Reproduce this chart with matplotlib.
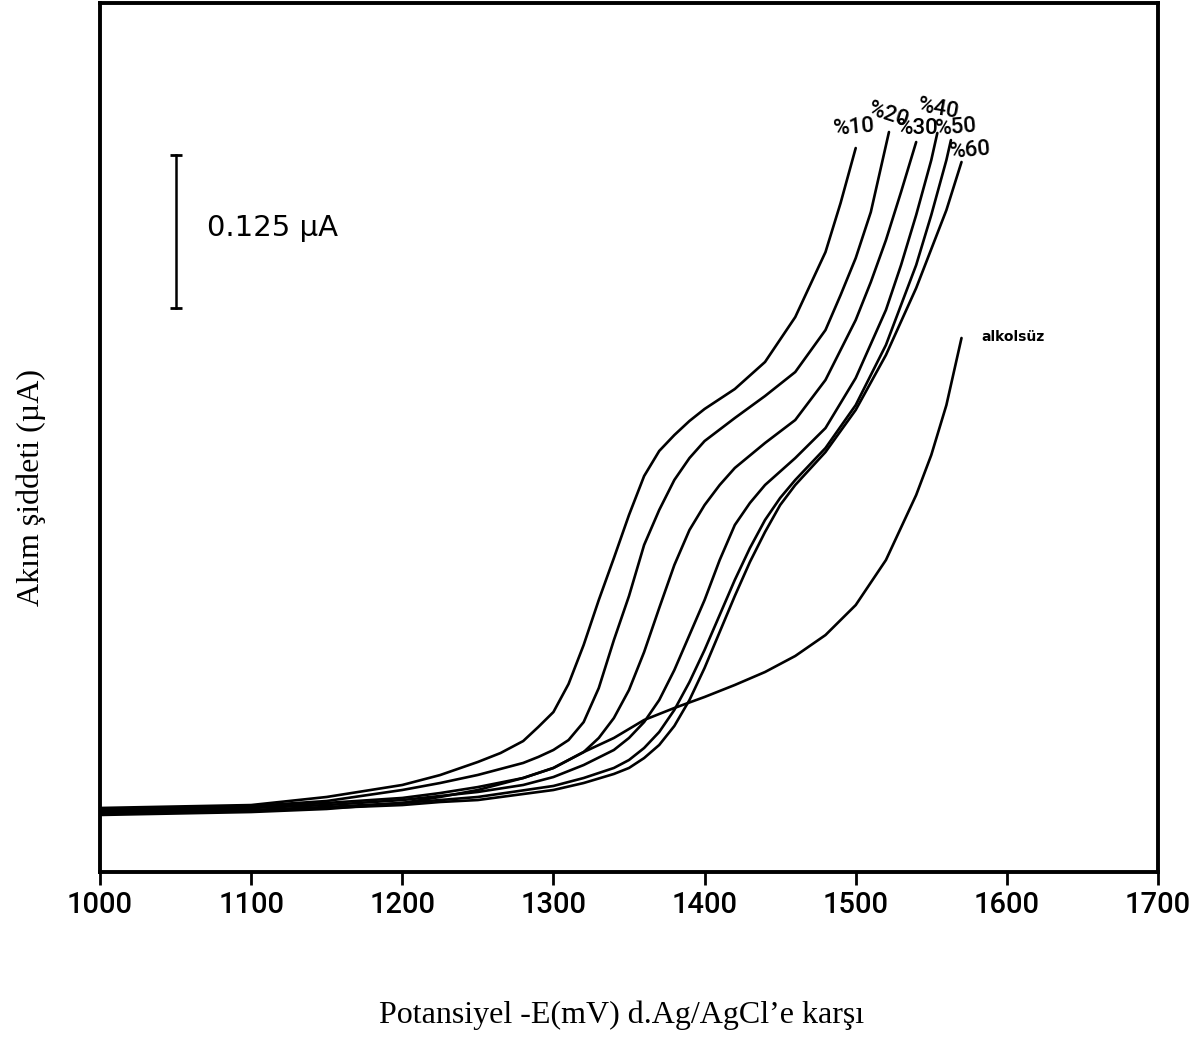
import matplotlib
matplotlib.use("Agg")
import matplotlib.pyplot as plt

# potential (mV) and current (uA)
e_10 = [1000, 1100, 1150, 1200, 1225, 1250, 1265, 1280, 1290, 1300, 1310, 1320, 1330,
        1340, 1350, 1360, 1370, 1380, 1390, 1400, 1420, 1440, 1460, 1480, 1490, 1500]
i_10 = [0.0523, 0.0547, 0.0613, 0.0711, 0.0792, 0.0899, 0.0972, 0.1070, 0.1185, 0.1307,
        0.1536, 0.1855, 0.2222, 0.2565, 0.2917, 0.3235, 0.3440, 0.3570, 0.3685, 0.3783,
        0.3946, 0.4167, 0.4534, 0.5065, 0.5466, 0.5915]

e_20 = [1000, 1100, 1150, 1200, 1225, 1250, 1280, 1290, 1300, 1310, 1320, 1330, 1340,
        1350, 1360, 1370, 1380, 1390, 1400, 1420, 1440, 1460, 1480, 1490, 1500, 1510,
        1522]
i_20 = [0.0515, 0.0539, 0.0580, 0.0670, 0.0727, 0.0793, 0.0891, 0.0940, 0.0997, 0.1078,
        0.1225, 0.1503, 0.1895, 0.2255, 0.2672, 0.2958, 0.3203, 0.3382, 0.3521, 0.3709,
        0.3889, 0.4085, 0.4428, 0.4714, 0.5016, 0.5392, 0.6046]

e_30 = [1000, 1100, 1150, 1200, 1225, 1250, 1280, 1300, 1320, 1330, 1340, 1350, 1360,
        1370, 1380, 1390, 1400, 1410, 1420, 1440, 1460, 1480, 1500, 1510, 1520, 1530,
        1540]
i_30 = [0.0507, 0.0531, 0.0564, 0.0605, 0.0645, 0.0694, 0.0768, 0.0850, 0.0980, 0.1095,
        0.1258, 0.1487, 0.1797, 0.2157, 0.2508, 0.2794, 0.2998, 0.3162, 0.3301, 0.3505,
        0.3693, 0.4020, 0.4510, 0.4820, 0.5163, 0.5556, 0.5964]

e_40 = [1000, 1100, 1150, 1200, 1225, 1250, 1280, 1300, 1320, 1340, 1350, 1360, 1370,
        1380, 1390, 1400, 1410, 1420, 1430, 1440, 1460, 1480, 1500, 1520, 1530, 1540,
        1550, 1554]
i_40 = [0.0498, 0.0523, 0.0547, 0.0588, 0.0621, 0.0654, 0.0711, 0.0776, 0.0874, 0.0997,
        0.1095, 0.1225, 0.1405, 0.1650, 0.1936, 0.2222, 0.2549, 0.2835, 0.3015, 0.3162,
        0.3382, 0.3627, 0.4036, 0.4592, 0.4959, 0.5368, 0.5817, 0.6038]

e_50 = [1000, 1100, 1150, 1200, 1225, 1250, 1300, 1320, 1340, 1350, 1360, 1370, 1380,
        1390, 1400, 1410, 1420, 1430, 1440, 1450, 1460, 1480, 1500, 1520, 1540, 1550,
        1560, 1563]
i_50 = [0.0490, 0.0507, 0.0531, 0.0564, 0.0588, 0.0613, 0.0703, 0.0768, 0.0850, 0.0915,
        0.1013, 0.1144, 0.1324, 0.1552, 0.1814, 0.2100, 0.2386, 0.2647, 0.2876, 0.3056,
        0.3203, 0.3464, 0.3815, 0.4306, 0.4959, 0.5368, 0.5817, 0.5980]

e_60 = [1000, 1100, 1150, 1200, 1225, 1250, 1300, 1320, 1340, 1350, 1360, 1370, 1380,
        1390, 1400, 1410, 1420, 1430, 1440, 1450, 1460, 1480, 1500, 1520, 1540, 1560,
        1570]
i_60 = [0.0482, 0.0498, 0.0523, 0.0547, 0.0572, 0.0588, 0.0670, 0.0727, 0.0801, 0.0850,
        0.0931, 0.1038, 0.1193, 0.1405, 0.1667, 0.1961, 0.2255, 0.2533, 0.2778, 0.2998,
        0.3162, 0.3431, 0.3775, 0.4224, 0.4771, 0.5408, 0.5801]

e_alk = [1000, 1100, 1150, 1200, 1225, 1250, 1280, 1300, 1320, 1340, 1360, 1380, 1400,
         1420, 1440, 1460, 1480, 1500, 1520, 1540, 1550, 1560, 1570]
i_alk = [0.0466, 0.0490, 0.0515, 0.0564, 0.0613, 0.0670, 0.0768, 0.0850, 0.0980, 0.1095,
         0.1242, 0.1340, 0.1430, 0.1528, 0.1634, 0.1765, 0.1936, 0.2181, 0.2549, 0.3080,
         0.3407, 0.3815, 0.4363]

curves = [(e_10, i_10, '%10'), (e_20, i_20, '%20'), (e_30, i_30, '%30'),
          (e_40, i_40, '%40'), (e_50, i_50, '%50'), (e_60, i_60, '%60'),
          (e_alk, i_alk, 'alkolsüz')]

# label offsets (points) from each curve's last point, and rotation
label_style = {'%10': (-1, 15, 5), '%20': (0, 12, -18), '%30': (1, 10, 0),
               '%40': (1, 17, -10), '%50': (4, 9, 5), '%60': (6, 8, 5),
               'alkolsüz': (37, 1, 0)}

scale_value = 0.125
xticks = [1000, 1100, 1200, 1300, 1400, 1500, 1600, 1700]

sans = ['Roboto', 'DejaVu Sans']

fig = plt.figure(figsize=(12.01, 10.40), dpi=100)
ax = fig.add_axes([100 / 1201, 168 / 1040, 1058 / 1201, 869 / 1040])

for e, i, name in curves:
    ax.plot(e, i, color='black', lw=1.9, solid_capstyle='round', solid_joinstyle='round')
    dx, dy, rot = label_style[name]
    if name == 'alkolsüz':
        ax.annotate(name, (e[-1], i[-1]), xytext=(dx, dy), textcoords='offset points',
                    ha='center', va='center', fontsize=10, fontweight='bold',
                    family='DejaVu Sans')
    else:
        ax.annotate(name, (e[-1], i[-1]), xytext=(dx, dy), textcoords='offset points',
                    ha='center', va='center', fontsize=16, rotation=rot, family=sans,
                    fontweight='medium')

# 0.125 uA scale bar
bar_x = 1050
bar_top = 0.586
ax.plot([bar_x, bar_x], [bar_top - scale_value, bar_top], color='black', lw=1.8)
ax.plot([bar_x, bar_x], [bar_top - scale_value, bar_top], ls='none', marker='_',
        ms=8, mew=2, color='black')
ax.text(1071, bar_top - scale_value / 2 + 0.003, '0.125 µA', ha='left', va='center',
        fontsize=21, family='DejaVu Sans')

ax.set_xlim(1000, 1700)
ax.set_ylim(0, 0.71)
ax.set_xticks(xticks)
ax.set_xticklabels([str(t) for t in xticks], family=sans, fontsize=21, fontweight='medium')
ax.tick_params(axis='x', direction='out', length=9, width=2, pad=5)
ax.set_yticks([])
for s in ax.spines.values():
    s.set_linewidth(2.8)

fig.text(622 / 1201, 1 - 1015 / 1040, 'Potansiyel -E(mV) d.Ag/AgCl’e karşı',
         ha='center', va='center', fontsize=23, family='Liberation Serif')
fig.text(31 / 1201, 1 - 488 / 1040, 'Akım şiddeti (µA)', rotation=90,
         ha='center', va='center', fontsize=23, family='Liberation Serif')

fig.savefig('out.png', dpi=100)
